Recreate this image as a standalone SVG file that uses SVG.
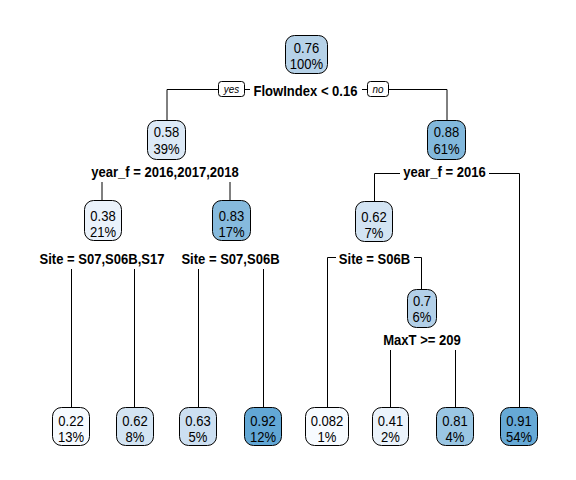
<svg xmlns="http://www.w3.org/2000/svg" width="576" height="480" viewBox="0 0 576 480">
<style>
.box{stroke:#000;stroke-width:1}
.nt{font-family:"Liberation Sans",Arial,sans-serif;font-size:14.5px;text-anchor:middle;fill:#000}
.sl{font-family:"Liberation Sans",Arial,sans-serif;font-size:15px;font-weight:bold;text-anchor:middle;fill:#000}
.yn{font-family:"Liberation Sans",Arial,sans-serif;font-size:11px;font-style:italic;text-anchor:middle;fill:#000}
.ln{fill:none;stroke:#000;stroke-width:1}
.bg{fill:#fff;stroke:none}
</style>
<rect width="576" height="480" fill="#fff"/>
<g id="connectors">
<path class="ln" d="M167,120 V89.5 H447 V120"/>
<path class="ln" d="M102,201 V172 H230 V201"/>
<path class="ln" d="M374.5,201 V173.5 H519.5 V408"/>
<path class="ln" d="M71.5,408 V258 H134.5 V408"/>
<path class="ln" d="M198.5,408 V258 H263.5 V408"/>
<path class="ln" d="M327.5,408 V257.5 H421.5 V290"/>
<path class="ln" d="M390.5,408 V339 H455.5 V408"/>
</g>
<g id="labels">
<rect class="bg" x="250" y="82" width="112" height="17"/>
<text class="sl" transform="translate(305.5 96) scale(0.87 1)">FlowIndex &lt; 0.16</text>
<rect x="218.5" y="81.5" width="26" height="15" rx="3" fill="#fff" stroke="#000"/>
<text class="yn" transform="translate(231.5 93) scale(0.9 1)">yes</text>
<rect x="367.5" y="81.5" width="21" height="15" rx="3" fill="#fff" stroke="#000"/>
<text class="yn" transform="translate(378 93) scale(0.9 1)">no</text>
<rect class="bg" x="89" y="164" width="152" height="18"/>
<text class="sl" transform="translate(165 177) scale(0.87 1)">year_f = 2016,2017,2018</text>
<rect class="bg" x="400" y="164" width="89" height="18"/>
<text class="sl" transform="translate(444.5 177) scale(0.87 1)">year_f = 2016</text>
<rect class="bg" x="37" y="251" width="130" height="18"/>
<text class="sl" transform="translate(102 264) scale(0.87 1)">Site = S07,S06B,S17</text>
<rect class="bg" x="179" y="251" width="104" height="18"/>
<text class="sl" transform="translate(230.5 264) scale(0.87 1)">Site = S07,S06B</text>
<rect class="bg" x="336" y="251" width="78" height="18"/>
<text class="sl" transform="translate(374.5 264) scale(0.87 1)">Site = S06B</text>
<rect class="bg" x="379" y="331" width="86" height="19"/>
<text class="sl" transform="translate(422 345) scale(0.87 1)">MaxT &gt;= 209</text>
</g>
<g id="n1"><rect class="box" x="285.5" y="35.5" width="42" height="38" rx="9" fill="#B6D2E8"/><text class="nt" transform="translate(306.5 53) scale(0.9 1)">0.76</text><text class="nt" transform="translate(306.5 69) scale(0.9 1)">100%</text></g>
<g id="n2"><rect class="box" x="147.5" y="120.5" width="38" height="39" rx="9" fill="#DCE9F6"/><text class="nt" transform="translate(166.5 137) scale(0.9 1)">0.58</text><text class="nt" transform="translate(166.5 154) scale(0.9 1)">39%</text></g>
<g id="n3"><rect class="box" x="427.5" y="120.5" width="38" height="39" rx="9" fill="#82B8DC"/><text class="nt" transform="translate(446.5 137) scale(0.9 1)">0.88</text><text class="nt" transform="translate(446.5 154) scale(0.9 1)">61%</text></g>
<g id="n4"><rect class="box" x="84.5" y="200.5" width="37" height="40" rx="9" fill="#EAF2FB"/><text class="nt" transform="translate(103 221) scale(0.9 1)">0.38</text><text class="nt" transform="translate(103 237) scale(0.9 1)">21%</text></g>
<g id="n5"><rect class="box" x="212.5" y="200.5" width="38" height="40" rx="9" fill="#86BADD"/><text class="nt" transform="translate(231.5 221) scale(0.9 1)">0.83</text><text class="nt" transform="translate(231.5 237) scale(0.9 1)">17%</text></g>
<g id="n6"><rect class="box" x="355.5" y="201.5" width="37" height="40" rx="9" fill="#D3E4F3"/><text class="nt" transform="translate(374 222) scale(0.9 1)">0.62</text><text class="nt" transform="translate(374 238) scale(0.9 1)">7%</text></g>
<g id="n7"><rect class="box" x="407.5" y="289.5" width="29" height="38" rx="9" fill="#B3D0E8"/><text class="nt" transform="translate(422 306) scale(0.9 1)">0.7</text><text class="nt" transform="translate(422 322) scale(0.9 1)">6%</text></g>
<g id="n8"><rect class="box" x="52.5" y="407.5" width="37" height="38" rx="9" fill="#F6FAFE"/><text class="nt" transform="translate(71 426) scale(0.9 1)">0.22</text><text class="nt" transform="translate(71 442) scale(0.9 1)">13%</text></g>
<g id="n9"><rect class="box" x="116.5" y="407.5" width="37" height="38" rx="9" fill="#D3E4F3"/><text class="nt" transform="translate(135 426) scale(0.9 1)">0.62</text><text class="nt" transform="translate(135 442) scale(0.9 1)">8%</text></g>
<g id="n10"><rect class="box" x="179.5" y="407.5" width="37" height="38" rx="9" fill="#CCDFF1"/><text class="nt" transform="translate(198 426) scale(0.9 1)">0.63</text><text class="nt" transform="translate(198 442) scale(0.9 1)">5%</text></g>
<g id="n11"><rect class="box" x="244.5" y="407.5" width="37" height="38" rx="9" fill="#62A7D5"/><text class="nt" transform="translate(263 426) scale(0.9 1)">0.92</text><text class="nt" transform="translate(263 442) scale(0.9 1)">12%</text></g>
<g id="n12"><rect class="box" x="305.5" y="407.5" width="43" height="38" rx="9" fill="#F7FBFF"/><text class="nt" transform="translate(327 426) scale(0.9 1)">0.082</text><text class="nt" transform="translate(327 442) scale(0.9 1)">1%</text></g>
<g id="n13"><rect class="box" x="372.5" y="407.5" width="36" height="38" rx="9" fill="#EBF3FB"/><text class="nt" transform="translate(390.5 426) scale(0.9 1)">0.41</text><text class="nt" transform="translate(390.5 442) scale(0.9 1)">2%</text></g>
<g id="n14"><rect class="box" x="436.5" y="407.5" width="37" height="38" rx="9" fill="#9AC6E3"/><text class="nt" transform="translate(455 426) scale(0.9 1)">0.81</text><text class="nt" transform="translate(455 442) scale(0.9 1)">4%</text></g>
<g id="n15"><rect class="box" x="500.5" y="407.5" width="37" height="38" rx="9" fill="#66A9D6"/><text class="nt" transform="translate(519 426) scale(0.9 1)">0.91</text><text class="nt" transform="translate(519 442) scale(0.9 1)">54%</text></g>
</svg>
